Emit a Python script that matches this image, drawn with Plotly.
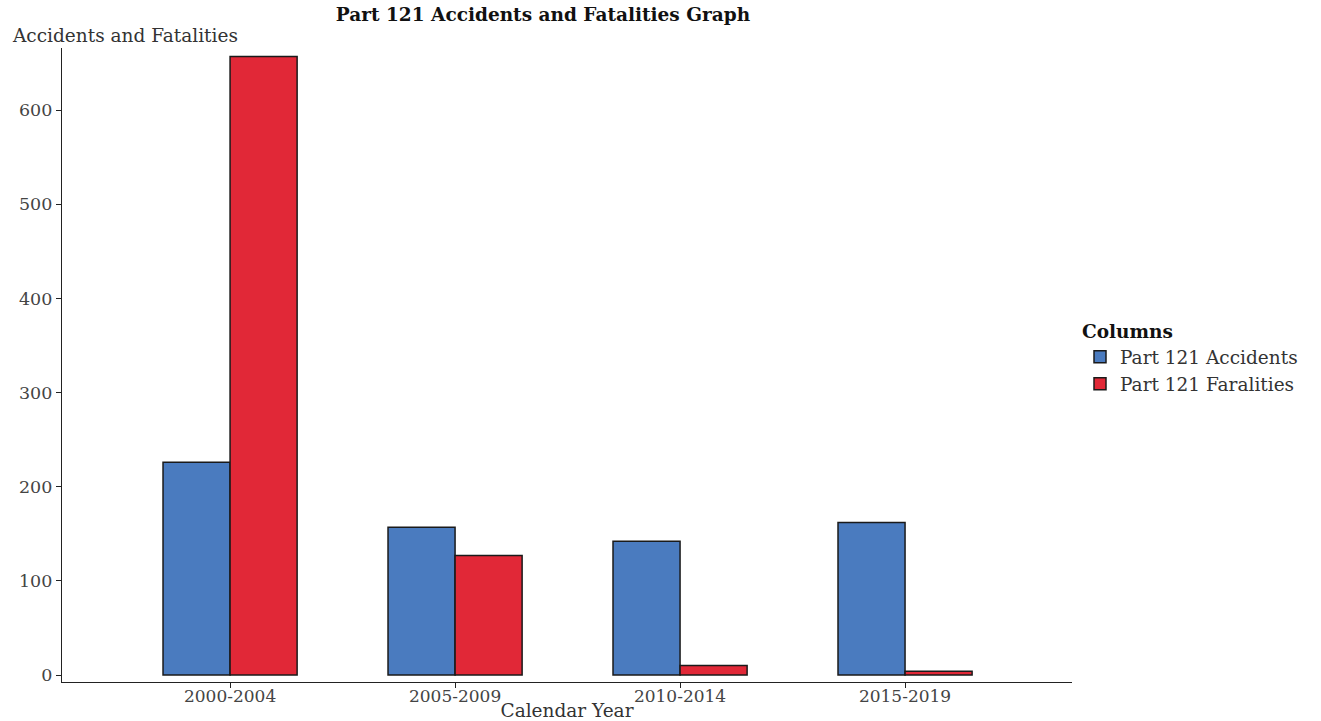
import plotly.graph_objects as go

categories = ["2000-2004", "2005-2009", "2010-2014", "2015-2019"]
accidents = [226, 157, 142, 162]
fatalities = [657, 127, 10, 4]
y_ticks = [0, 100, 200, 300, 400, 500, 600]

FONT = "DejaVu Serif, serif"

fig = go.Figure()
fig.add_trace(go.Bar(x=categories, y=accidents, name="Part 121 Accidents",
                     marker=dict(color="#4a7bbf", line=dict(color="#1a1a1a", width=1.5))))
fig.add_trace(go.Bar(x=categories, y=fatalities, name="Part 121 Faralities",
                     marker=dict(color="#e12837", line=dict(color="#1a1a1a", width=1.5))))

fig.update_layout(
    width=1321, height=721,
    margin=dict(l=62, r=249, t=48, b=39, autoexpand=False),
    paper_bgcolor="white", plot_bgcolor="white",
    font=dict(family=FONT, size=18, color="#333"),
    barmode="group", bargap=0.404, bargroupgap=0,
    title=dict(text="<b>Part 121 Accidents and Fatalities Graph</b>", x=543/1321, xanchor="center",
               y=1-15/721, yanchor="middle", font=dict(family=FONT, size=18.5, color="#111")),
    legend=dict(title=dict(text="<b>Columns</b>", font=dict(family=FONT, size=18.5, color="#111")),
                x=1080/1321, xref="container", y=0.51, yanchor="middle", xanchor="left",
                font=dict(family=FONT, size=18.5, color="#333"), itemwidth=30, tracegroupgap=0),
    xaxis=dict(range=[-0.747, 3.742], showline=True, linecolor="#222", linewidth=1.2,
               ticks="outside", ticklen=5, tickcolor="#222", showgrid=False, automargin=False,
               ticklabelstandoff=-7,
               tickfont=dict(family=FONT, size=17, color="#444"),
               title=dict(text="Calendar Year", font=dict(family=FONT, size=18.5, color="#333"), standoff=0)),
    yaxis=dict(range=[-7.4, 666], showline=True, linecolor="#222", linewidth=1.2, automargin=False,
               ticks="outside", ticklen=5, tickcolor="#222", showgrid=False, zeroline=False,
               tickvals=y_ticks, tickfont=dict(family=FONT, size=17.5, color="#444")),
    showlegend=True,
)
fig.add_annotation(text="Accidents and Fatalities", xref="paper", yref="paper",
                   x=-52/1010, y=1, xanchor="left", yanchor="bottom", showarrow=False,
                   font=dict(family=FONT, size=18.5, color="#333"), yshift=0)

fig.write_html("out.html")
